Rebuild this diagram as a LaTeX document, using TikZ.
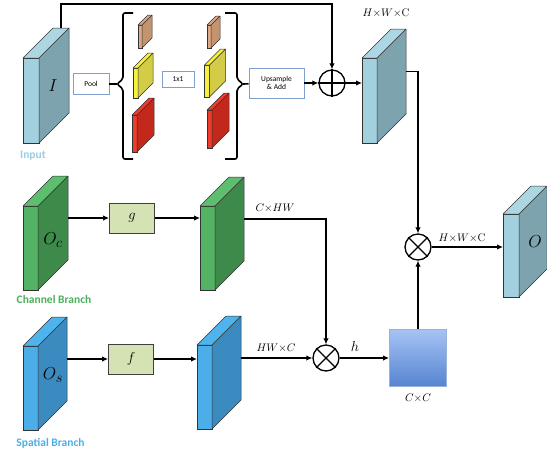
\documentclass[tikz,border=0pt]{standalone}
\usepackage{amsmath}
\usepackage{fontspec}
\setsansfont{Carlito}
\usepackage{xcolor}
\usepackage{tikz}
\usetikzlibrary{arrows.meta}
\definecolor{inpfront}{HTML}{A2D0DF}
\definecolor{inpside}{HTML}{7CA3AE}
\definecolor{inptop}{HTML}{ADD6E3}
\definecolor{chfront}{HTML}{53B264}
\definecolor{chside}{HTML}{3E8A4A}
\definecolor{chtop}{HTML}{5DBE6E}
\definecolor{spfront}{HTML}{4BAEE9}
\definecolor{spside}{HTML}{3B8BC0}
\definecolor{sptop}{HTML}{4FB3EC}
\definecolor{brfront}{HTML}{DDA887}
\definecolor{brside}{HTML}{C4946F}
\definecolor{yefront}{HTML}{F8F13B}
\definecolor{yeside}{HTML}{D2CC47}
\definecolor{rdfront}{HTML}{EE3B2B}
\definecolor{rdside}{HTML}{C3281D}
\definecolor{opblue}{HTML}{7DA0D0}
\definecolor{fngreen}{HTML}{D5E3B4}
\definecolor{mattop}{HTML}{A6C3F5}
\definecolor{matbot}{HTML}{5584D0}
\definecolor{inplbl}{HTML}{9DCCE0}
\definecolor{chlbl}{HTML}{4CAF5A}
\definecolor{splbl}{HTML}{4BAEE8}

% slab: name, front centre, width, height, depth, front, side, top
\newcommand{\slab}[8]{%
  \node[slabface, fill=#6, minimum width=#3pt, minimum height=#4pt] (#1) at (#2) {};
  \filldraw[slabedge, fill=#7] (#1.north east) -- ++(#5,-#5) -- ++(0,#4) -- (#1.south east) -- cycle;
  \filldraw[slabedge, fill=#8] (#1.north west) -- ++(#5,-#5) -- ++(#3,0) -- (#1.north east) -- cycle;
  \coordinate (#1-r) at ([shift={(#5,-#5)}]#1.east);
  \coordinate (#1-t) at ([shift={(#5,-#5)}]#1.north);
}

\begin{document}
\begin{tikzpicture}[x=1pt, y=-1pt,
  slabface/.style={draw=black!80, line width=0.5pt, inner sep=0pt, outer sep=0pt},
  slabedge/.style={draw=black!80, line width=0.5pt, line join=round},
  opbox/.style={draw=opblue, line width=0.8pt, fill=white, align=center, inner sep=1pt,
    font=\sffamily\fontsize{7.5}{8.5}\selectfont},
  fnbox/.style={draw=black!75, line width=0.8pt, fill=fngreen, minimum width=45pt, minimum height=30pt,
    font=\fontsize{15}{17}\selectfont},
  wire/.style={line width=1.6pt},
  conn/.style={line width=1.6pt, -{Latex[length=6pt, width=5.5pt]}},
  bracket/.style={line width=1.6pt, rounded corners=2pt},
  ring/.style={circle, draw, line width=1.3pt, minimum size=26pt, inner sep=0pt},
  sign/.style={line width=1.3pt},
  dimlbl/.style={font=\fontsize{11}{13}\selectfont},
  biglbl/.style={font=\fontsize{19}{22}\selectfont},
  brlbl/.style={font=\sffamily\bfseries\fontsize{11.5}{13}\selectfont}
]
\useasboundingbox (0,0) rectangle (547,451);

% pyramid pooling part
\slab{inp}{31,100.5}{16}{85}{30}{inpfront}{inpside}{inptop}
\node[biglbl] (inp-l) at (53,85.5) {$I$};
\node[brlbl, text=inplbl] (inp-n) at (33,156) {Input};

\node[opbox, minimum width=36pt, minimum height=21pt] (pool) at (91,84) {Pool};
\coordinate (lcusp) at (117,84);
\coordinate (rcusp) at (243,84);
\draw[bracket] (133,13) -- (123,13) -- (123,79) -- (lcusp) -- (123,89) -- (123,159) -- (133,159);
\draw[bracket] (225,13) -- (237,13) -- (237,79) -- (rcusp) -- (237,89) -- (237,159) -- (225,159);

\slab{pa1}{140,36.5}{4}{23}{10}{brfront}{brside}{brfront}
\slab{pa2}{135.5,83}{5}{30}{15}{yefront}{yeside}{yefront}
\slab{pa3}{134.5,133.5}{5}{37}{17}{rdfront}{rdside}{rdfront}
\node[opbox, minimum width=32pt, minimum height=16pt] (conv) at (178,79) {1x1};
\slab{pb1}{209,36.5}{4}{23}{9}{brfront}{brside}{brfront}
\slab{pb2}{207,81}{5}{32}{16}{yefront}{yeside}{yefront}
\slab{pb3}{209.5,129}{5}{38}{17}{rdfront}{rdside}{rdfront}

\node[opbox, minimum width=55pt, minimum height=30pt] (ups) at (276.5,83) {Upsample\\\& Add};
\node[ring] (add) at (332,83) {};
\draw[sign] (add.north) -- (add.south) (add.west) -- (add.east);

\slab{hwc}{369.5,100.5}{15}{85}{29}{inpfront}{inpside}{inptop}
\node[dimlbl] (hwc-l) at (386,13) {$H{\times}W{\times}\mathrm{C}$};

\coordinate (skip) at (61,4);
\draw[wire] (pool) -- (lcusp);
\draw[wire] (rcusp) -- (ups);
\draw[conn] (ups) -- (add);
\draw[conn] (inp-t) -- (skip) -| (add);
\draw[conn] (add) -- (add -| hwc.west);

% channel branch
\slab{oc}{30.5,248}{15}{84}{30}{chfront}{chside}{chtop}
\node[biglbl] (oc-l) at (53,240) {$O_c$};
\node[brlbl, text=chlbl] (oc-n) at (54,300) {Channel Branch};
\node[fnbox] (g) at (132,218) {$g$};
\slab{csl}{207.5,248}{15}{84}{29}{chfront}{chside}{chtop}
\node[dimlbl] (csl-l) at (275,208) {$C{\times}HW$};

% spatial branch
\slab{os}{30.5,388}{15}{84}{29}{spfront}{spside}{sptop}
\node[biglbl] (os-l) at (53,375) {$O_s$};
\node[brlbl, text=splbl] (os-n) at (50.5,443) {Spatial Branch};
\node[fnbox] (f) at (131,359) {$f$};
\slab{ssl}{204.5,387}{15}{84}{29}{spfront}{spside}{sptop}
\node[dimlbl] (ssl-l) at (276,348) {$HW{\times}C$};

% fusion
\node[ring] (mul1) at (326,358) {};
\draw[sign] (mul1.north west) -- (mul1.south east) (mul1.north east) -- (mul1.south west);
\node[font=\fontsize{15}{17}\selectfont] (h-l) at (355,346) {$h$};
\node[draw=opblue!80, line width=0.8pt, top color=mattop, bottom color=matbot,
  minimum width=57pt, minimum height=57pt] (mat) at (418,358) {};
\node[dimlbl] (mat-l) at (418,398) {$C{\times}C$};
\node[ring] (mul2) at (418,247) {};
\draw[sign] (mul2.north west) -- (mul2.south east) (mul2.north east) -- (mul2.south west);
\node[dimlbl] (mul2-l) at (462,238) {$H{\times}W{\times}\mathrm{C}$};
\slab{out}{511,255.5}{16}{83}{28}{inpfront}{inpside}{inptop}
\node[biglbl] (out-l) at (535,242) {$O$};

\draw[conn] (oc-r) -- (g);
\draw[conn] (g) -- (g -| csl.west);
\draw[conn] (csl-r) -| (mul1);
\draw[conn] (os-r) -- (f);
\draw[conn] (f) -- (f -| ssl.west);
\draw[conn] (ssl-r) -- (mul1);
\draw[conn] (mul1) -- (mat);
\draw[conn] (mat) -- (mul2);
\draw[conn] (hwc-r) -| (mul2);
\draw[conn] (mul2) -- (mul2 -| out.west);
\end{tikzpicture}
\end{document}
